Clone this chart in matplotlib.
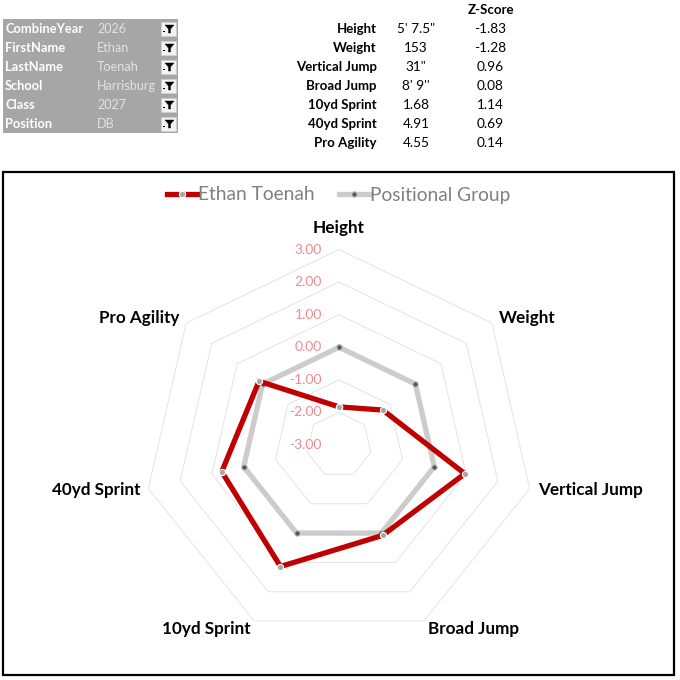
import numpy as np
import matplotlib
matplotlib.use('Agg')
import matplotlib.pyplot as plt
import matplotlib.transforms as mtransforms
from matplotlib.patches import Rectangle, Polygon

plt.rcParams['font.family'] = ['Lato', 'DejaVu Sans']

# ---------------- data ----------------
categories = ["Height", "Weight", "Vertical Jump", "Broad Jump",
              "10yd Sprint", "40yd Sprint", "Pro Agility"]
player_z = [-1.83, -1.28, 0.96, 0.08, 1.14, 0.69, 0.14]
group_z = [0.00, 0.00, 0.00, 0.00, 0.00, 0.00, 0.00]
raw_values = ["5' 7.5\"", "153", "31\"", "8' 9''", "1.68", "4.91", "4.55"]
series_names = ["Ethan Toenah", "Positional Group"]
r_ticks = [-3, -2, -1, 0, 1, 2, 3]
filter_fields = ["CombineYear", "FirstName", "LastName", "School", "Class", "Position"]
filter_values = ["2026", "Ethan", "Toenah", "Harrisburg", "2027", "DB"]

W = H = 680
fig = plt.figure(figsize=(6.8, 6.8), dpi=100)


def fx(x):
    return x / W


def fy(y):
    return 1 - y / H


# ---------------- filter table (top-left) ----------------
fig.add_artist(Rectangle((fx(3), fy(133)), fx(175), 114 / H,
                         transform=fig.transFigure, fc='#a6a6a6', ec='none'))
for i, (f, v) in enumerate(zip(filter_fields, filter_values)):
    yc = 29 + 19 * i
    fig.text(fx(5), fy(yc), f, ha='left', va='center', color='white',
             fontsize=9.3, fontweight='bold')
    fig.text(fx(97), fy(yc), v, ha='left', va='center', color='#e2e2e2',
             fontsize=9.1)
    fig.add_artist(Rectangle((fx(161), fy(yc + 7)), 15 / W, 14 / H,
                             transform=fig.transFigure, fc='#f2f2f2', ec='#d0d0d0', lw=0.5))
    funnel = [(165, yc - 4), (174, yc - 4), (170.5, yc), (170.5, yc + 4),
              (168.5, yc + 4), (168.5, yc)]
    fig.add_artist(Polygon([(fx(a), fy(b)) for a, b in funnel], closed=True,
                           transform=fig.transFigure, fc='black', ec='black', lw=0.3))
    fig.add_artist(Rectangle((fx(163), fy(yc + 3)), 1.5 / W, 1.5 / H,
                             transform=fig.transFigure, fc='black', ec='none'))

# ---------------- stats table (top-right) ----------------
fig.text(fx(491), fy(10), "Z-Score", ha='center', va='center', color='black',
         fontsize=9.5, fontweight='bold')
for i, (c, rv, z) in enumerate(zip(categories, raw_values, player_z)):
    yc = 29 + 19 * i
    fig.text(fx(377), fy(yc), c, ha='right', va='center', color='black',
             fontsize=9.5, fontweight='bold')
    fig.text(fx(416), fy(yc), rv, ha='center', va='center', color='black',
             fontsize=9.8)
    fig.text(fx(490), fy(yc), f"{z:.2f}", ha='center', va='center', color='black',
             fontsize=9.8)

# ---------------- chart border ----------------
fig.add_artist(Rectangle((fx(3), fy(675)), 671 / W, 503 / H,
                         transform=fig.transFigure, fill=False, ec='black', lw=1.6))

# ---------------- radar ----------------
cx, cy, R = 339, 445, 195.5
ax = fig.add_axes([fx(cx - R), fy(cy + R), 2 * R / W, 2 * R / H], projection='polar')
ax.set_theta_zero_location('N')
ax.set_theta_direction(-1)
ax.set_ylim(r_ticks[0], r_ticks[-1])
ax.set_axis_off()

n = len(categories)
angles = np.arange(n) * 2 * np.pi / n
ang_c = np.append(angles, angles[0])

for r in r_ticks[1:]:
    ax.plot(ang_c, [r] * (n + 1), color='#e3e3e3', lw=0.7, zorder=1)

pz = np.append(player_z, player_z[0])
gz = np.append(group_z, group_z[0])
l_group, = ax.plot(ang_c, gz, color='#cccccc', lw=3.8, marker='o', ms=4,
                   mfc='#595959', mec='#c8c8c8', mew=0.8, zorder=3,
                   solid_joinstyle='miter')
l_player, = ax.plot(ang_c, pz, color='#c00000', lw=3.8, marker='o', ms=4.5,
                    mfc='#a6a6a6', mec='white', mew=0.8, zorder=4,
                    solid_joinstyle='miter')

px_per_unit = R / (r_ticks[-1] - r_ticks[0])
r_lab = r_ticks[0] + 204 / px_per_unit
r_top = r_ticks[0] + 217 / px_per_unit
for i, name in enumerate(categories):
    a = angles[i]
    s = np.sin(a)
    if abs(s) < 1e-6:
        ha, va, rr = 'center', 'center', r_top
    else:
        ha, va, rr = ('left' if s > 0 else 'right'), 'center', r_lab
    ax.text(a, rr, name, ha=ha, va=va, fontsize=12.3, fontweight='bold',
            color='black', clip_on=False)

off = mtransforms.offset_copy(ax.transData, fig=fig, x=-17, y=0, units='dots')
for r in r_ticks:
    ax.text(0, r, f"{r:.2f}", ha='right', va='center', color='#f08a92',
            fontsize=10, transform=off, clip_on=False, zorder=5)

fig.legend(handles=[l_player, l_group], labels=series_names, loc='center',
           bbox_to_anchor=(fx(338.5), fy(195)), ncol=2, frameon=False,
           fontsize=13.8, labelcolor='#808080', handlelength=1.6,
           handletextpad=0.0, columnspacing=1.3, numpoints=1)

fig.savefig('out.png', dpi=100)
